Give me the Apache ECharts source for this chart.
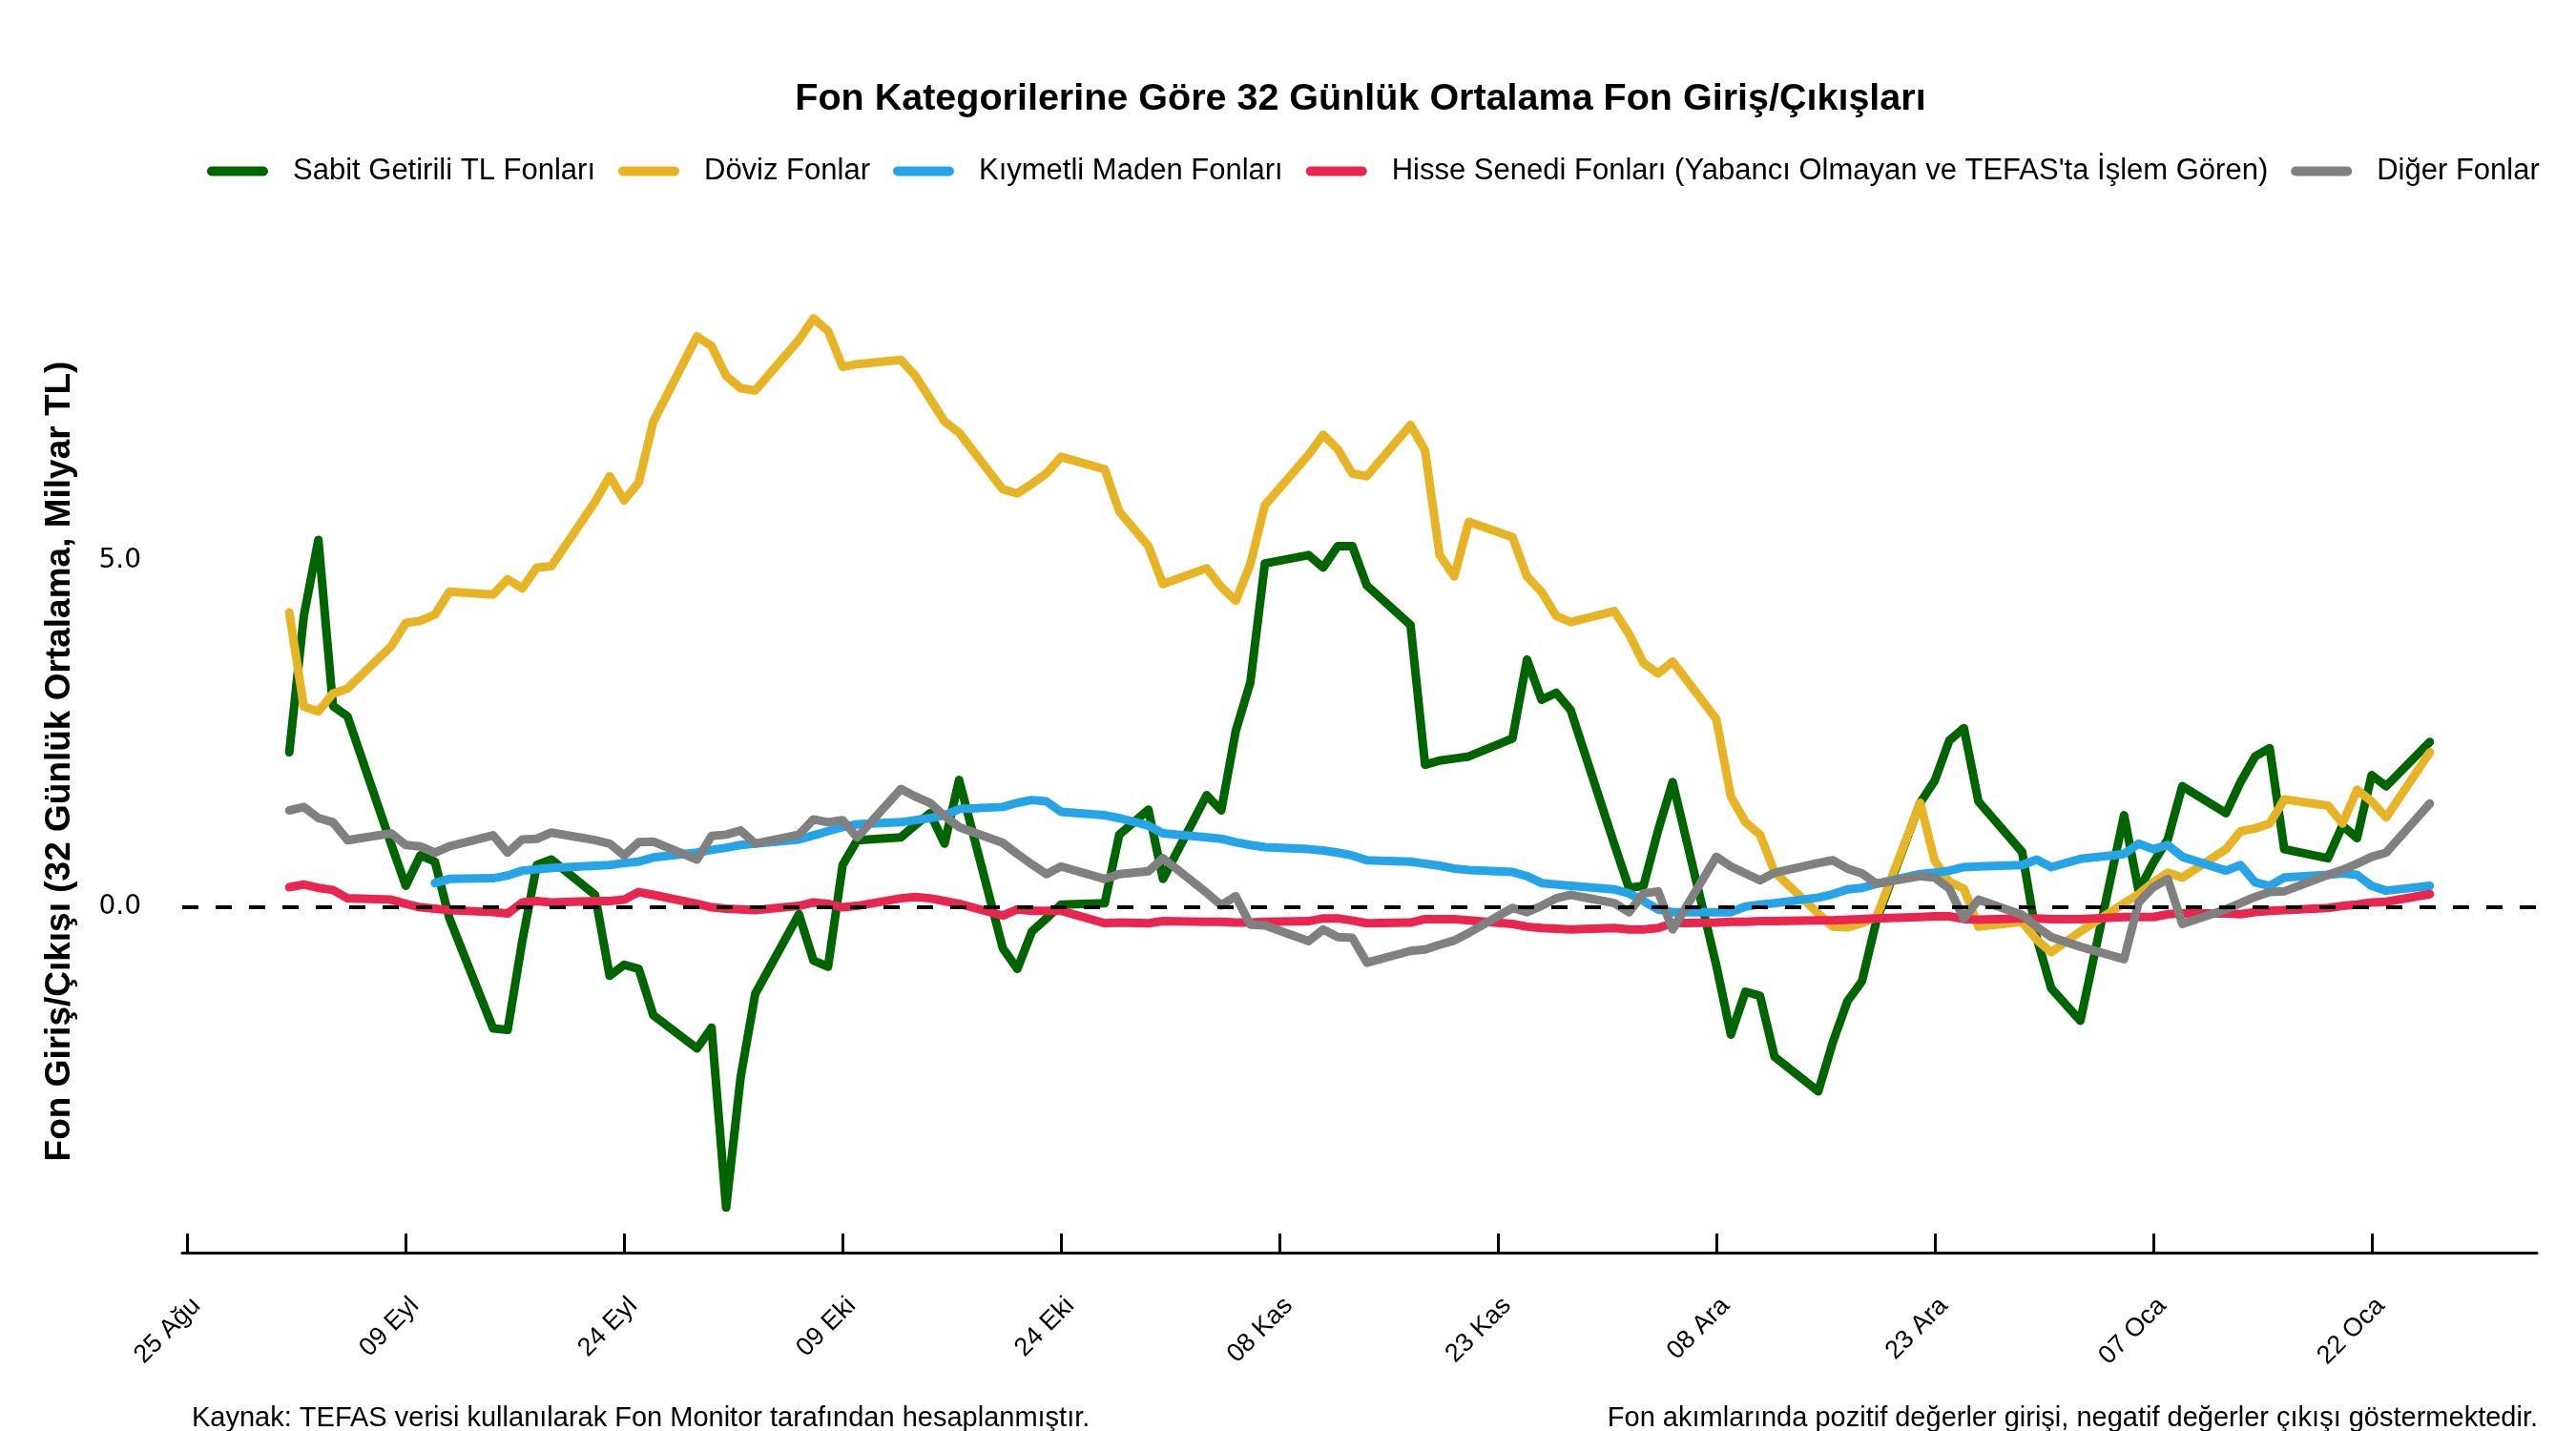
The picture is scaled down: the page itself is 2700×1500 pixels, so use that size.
<!DOCTYPE html>
<html>
<head>
<meta charset="utf-8">
<title>Fon Kategorilerine Göre 32 Günlük Ortalama Fon Giriş/Çıkışları</title>
<script src="https://cdn.jsdelivr.net/npm/echarts@6/dist/echarts.min.js"></script>
<style>
    html, body { margin: 0; padding: 0; background: #fff; }
    #main { width: 2700px; height: 1500px; }
</style>
</head>
<body>
<div id="main"></div>
<script>
// işlem günleri (hafta içi)
var dates = [
    '2025-09-01', '2025-09-02', '2025-09-03', '2025-09-04', '2025-09-05',
    '2025-09-08', '2025-09-09', '2025-09-10', '2025-09-11', '2025-09-12',
    '2025-09-15', '2025-09-16', '2025-09-17', '2025-09-18', '2025-09-19',
    '2025-09-22', '2025-09-23', '2025-09-24', '2025-09-25', '2025-09-26',
    '2025-09-29', '2025-09-30', '2025-10-01', '2025-10-02', '2025-10-03',
    '2025-10-06', '2025-10-07', '2025-10-08', '2025-10-09', '2025-10-10',
    '2025-10-13', '2025-10-14', '2025-10-15', '2025-10-16', '2025-10-17',
    '2025-10-20', '2025-10-21', '2025-10-22', '2025-10-23', '2025-10-24',
    '2025-10-27', '2025-10-28', '2025-10-30', '2025-10-31',
    '2025-11-03', '2025-11-04', '2025-11-05', '2025-11-06', '2025-11-07',
    '2025-11-10', '2025-11-11', '2025-11-12', '2025-11-13', '2025-11-14',
    '2025-11-17', '2025-11-18', '2025-11-19', '2025-11-20', '2025-11-21',
    '2025-11-24', '2025-11-25', '2025-11-26', '2025-11-27', '2025-11-28',
    '2025-12-01', '2025-12-02', '2025-12-03', '2025-12-04', '2025-12-05',
    '2025-12-08', '2025-12-09', '2025-12-10', '2025-12-11', '2025-12-12',
    '2025-12-15', '2025-12-16', '2025-12-17', '2025-12-18', '2025-12-19',
    '2025-12-22', '2025-12-23', '2025-12-24', '2025-12-25', '2025-12-26',
    '2025-12-29', '2025-12-30', '2025-12-31', '2026-01-02',
    '2026-01-05', '2026-01-06', '2026-01-07', '2026-01-08', '2026-01-09',
    '2026-01-12', '2026-01-13', '2026-01-14', '2026-01-15', '2026-01-16',
    '2026-01-19', '2026-01-20', '2026-01-21', '2026-01-22', '2026-01-23',
    '2026-01-26'
];

// milyar TL, 32 günlük ortalama
var sabitGetirili = [
    2.23, 4.2, 5.3, 2.9, 2.75,
    0.9, 0.3, 0.74, 0.65, -0.17,
    -1.76, -1.78, -0.5, 0.6, 0.68,
    0.17, -1.0, -0.84, -0.9, -1.57,
    -2.05, -1.75, -4.35, -2.46, -1.26,
    -0.11, -0.78, -0.87, 0.6, 0.96,
    1.0, 1.18, 1.35, 0.91, 1.83,
    -0.6, -0.9, -0.36, -0.17, 0.03,
    0.05, 1.04, 1.4, 0.4,
    1.61, 1.39, 2.54, 3.24, 4.96,
    5.08, 4.9, 5.21, 5.21, 4.64,
    4.07, 2.05, 2.11, 2.14, 2.17,
    2.43, 3.57, 2.99, 3.09, 2.84,
    0.9, 0.27, 0.3, 1.1, 1.8,
    -0.85, -1.85, -1.23, -1.29, -2.17,
    -2.67, -1.96, -1.37, -1.08, -0.2,
    1.5, 1.82, 2.4, 2.58, 1.52,
    0.79, -0.45, -1.18, -1.65,
    1.32, 0.23, 0.63, 0.97, 1.74,
    1.35, 1.8, 2.17, 2.29, 0.83,
    0.7, 1.17, 0.99, 1.9, 1.74,
    2.38
];
var doviz = [
    4.25, 2.89, 2.82, 3.08, 3.15,
    3.76, 4.1, 4.13, 4.22, 4.55,
    4.51, 4.73, 4.6, 4.9, 4.92,
    5.85, 6.22, 5.87, 6.13, 7.01,
    8.24, 8.1, 7.67, 7.49, 7.46,
    8.19, 8.5, 8.32, 7.8, 7.84,
    7.9, 7.67, 7.34, 7.01, 6.85,
    6.03, 5.97, 6.11, 6.26, 6.5,
    6.32, 5.71, 5.21, 4.66,
    4.89, 4.62, 4.42, 4.95, 5.8,
    6.53, 6.82, 6.61, 6.26, 6.22,
    6.96, 6.59, 5.08, 4.77, 5.56,
    5.34, 4.77, 4.55, 4.2, 4.11,
    4.27, 3.94, 3.52, 3.37, 3.54,
    2.71, 1.59, 1.22, 1.04, 0.5,
    -0.1, -0.29, -0.3, -0.24, -0.15,
    1.5, 0.66, 0.36, 0.26, -0.29,
    -0.22, -0.48, -0.66, -0.36,
    0.05, 0.18, 0.35, 0.49, 0.42,
    0.83, 1.09, 1.13, 1.2, 1.55,
    1.46, 1.2, 1.69, 1.52, 1.29,
    2.23
];
var kiymetliMaden = [
    null, null, null, null, null,
    null, null, null, 0.34, 0.4,
    0.41, 0.45, 0.52, 0.54, 0.56,
    0.59, 0.6, 0.63, 0.65, 0.71,
    0.78, 0.82, 0.85, 0.89, 0.91,
    0.97, 1.03, 1.09, 1.15, 1.19,
    1.22, 1.25, 1.28, 1.32, 1.41,
    1.44, 1.5, 1.54, 1.52, 1.37,
    1.32, 1.28, 1.17, 1.06,
    1.0, 0.98, 0.93, 0.89, 0.86,
    0.83, 0.81, 0.78, 0.74, 0.67,
    0.65, 0.62, 0.59, 0.55, 0.53,
    0.5, 0.44, 0.34, 0.32, 0.3,
    0.25, 0.19, 0.08, -0.04, -0.08,
    -0.08, -0.08, 0.0, 0.03, 0.05,
    0.13, 0.18, 0.25, 0.27, 0.33,
    0.47, 0.49, 0.52, 0.57, 0.58,
    0.6, 0.68, 0.57, 0.69,
    0.76, 0.91, 0.83, 0.89, 0.72,
    0.52, 0.6, 0.35, 0.3, 0.42,
    0.46, 0.48, 0.46, 0.3, 0.23,
    0.3
];
var hisseSenedi = [
    0.28, 0.32, 0.27, 0.24, 0.12,
    0.1, 0.04, -0.01, -0.03, -0.05,
    -0.08, -0.1, 0.06, 0.08, 0.06,
    0.08, 0.08, 0.1, 0.21, 0.17,
    0.04, -0.01, -0.03, -0.04, -0.05,
    0.01, 0.06, 0.04, -0.01, 0.01,
    0.12, 0.14, 0.12, 0.08, 0.04,
    -0.13, -0.04, -0.06, -0.06, -0.06,
    -0.24, -0.23, -0.24, -0.21,
    -0.22, -0.22, -0.23, -0.23, -0.22,
    -0.21, -0.17, -0.17, -0.2, -0.24,
    -0.23, -0.18, -0.18, -0.18, -0.2,
    -0.25, -0.29, -0.31, -0.32, -0.33,
    -0.31, -0.33, -0.33, -0.31, -0.24,
    -0.23, -0.22, -0.22, -0.21, -0.21,
    -0.2, -0.2, -0.19, -0.18, -0.17,
    -0.15, -0.14, -0.14, -0.18, -0.19,
    -0.17, -0.17, -0.18, -0.18,
    -0.15, -0.15, -0.15, -0.11, -0.1,
    -0.1, -0.11, -0.08, -0.06, -0.05,
    -0.02, 0.01, 0.03, 0.06, 0.07,
    0.18
];
var diger = [
    1.39, 1.44, 1.28, 1.22, 0.96,
    1.06, 0.89, 0.87, 0.78, 0.87,
    1.03, 0.78, 0.97, 0.98, 1.07,
    0.96, 0.91, 0.74, 0.93, 0.94,
    0.68, 1.02, 1.04, 1.1, 0.91,
    1.04, 1.26, 1.22, 1.25, 1.0,
    1.7, 1.59, 1.5, 1.31, 1.15,
    0.92, 0.76, 0.61, 0.47, 0.58,
    0.4, 0.47, 0.51, 0.7,
    0.2, 0.02, 0.15, -0.26, -0.27,
    -0.5, -0.33, -0.44, -0.45, -0.81,
    -0.64, -0.62, -0.55, -0.49, -0.38,
    -0.02, -0.08, 0.01, 0.12, 0.17,
    0.05, -0.08, 0.19, 0.22, -0.33,
    0.72, 0.58, 0.48, 0.38, 0.49,
    0.63, 0.67, 0.55, 0.48, 0.33,
    0.44, 0.42, 0.26, -0.17, 0.1,
    -0.12, -0.29, -0.44, -0.58,
    -0.76, 0.06, 0.28, 0.4, -0.25,
    -0.04, 0.05, 0.14, 0.21, 0.22,
    0.46, 0.53, 0.62, 0.72, 0.78,
    1.49
];

var tickDates = ['2025-08-25', '2025-09-09', '2025-09-24', '2025-10-09', '2025-10-24', '2025-11-08',
    '2025-11-23', '2025-12-08', '2025-12-23', '2026-01-07', '2026-01-22'];
var tickLabels = ['25 Ağu', '09 Eyl', '24 Eyl', '09 Eki', '24 Eki', '08 Kas',
    '23 Kas', '08 Ara', '23 Ara', '07 Oca', '22 Oca'];

var seriesNames = ['Sabit Getirili TL Fonları', 'Döviz Fonlar', 'Kıymetli Maden Fonları',
    "Hisse Senedi Fonları (Yabancı Olmayan ve TEFAS'ta İşlem Gören)", 'Diğer Fonlar'];
var seriesColors = ['#006400', '#E7B426', '#25A4E8', '#E9264F', '#808080'];
var seriesValues = [sabitGetirili, doviz, kiymetliMaden, hisseSenedi, diger];

var FONT = 'Liberation Sans, Arial, sans-serif';
var BASE = Date.UTC(2025, 7, 25);

// tarih -> 25 Ağu'dan itibaren gün
function dayOf(s) {
    var p = s.split('-');
    return (Date.UTC(+p[0], +p[1] - 1, +p[2]) - BASE) / 86400000;
}

var xDays = dates.map(dayOf);
var tickDays = tickDates.map(dayOf);
var first = xDays[0], last = xDays[xDays.length - 1];
var pad = (last - first) * 0.05;

var series = seriesValues.map(function (vals, i) {
    var s = {
        name: seriesNames[i],
        type: 'line',
        showSymbol: false,
        symbol: 'none',
        color: seriesColors[i],
        lineStyle: {width: 9, color: seriesColors[i], cap: 'round', join: 'round'},
        emphasis: {disabled: true},
        data: xDays.map(function (d, j) {
            return [d, vals[j]];
        })
    };
    if (i === 0) {
        s.markLine = {
            silent: true,
            symbol: ['none', 'none'],
            label: {show: false},
            lineStyle: {color: '#000', type: [17, 18], width: 4},
            data: [{yAxis: 0}]
        };
    }
    return s;
});

var myChart = echarts.init(document.getElementById('main'), null, {renderer: 'canvas'});
var option = {
    animation: false,
    backgroundColor: '#fff',
    title: [{
        text: 'Fon Kategorilerine Göre 32 Günlük Ortalama Fon Giriş/Çıkışları',
        left: 1426,
        top: 84,
        textAlign: 'center',
        padding: 0,
        textStyle: {fontFamily: FONT, fontSize: 39.5, fontWeight: 'bold', color: '#000'}
    }, {
        text: 'Kaynak: TEFAS verisi kullanılarak Fon Monitor tarafından hesaplanmıştır.',
        left: 201,
        top: 1472,
        padding: 0,
        textStyle: {fontFamily: FONT, fontSize: 29, fontWeight: 'normal', color: '#000'}
    }, {
        text: 'Fon akımlarında pozitif değerler girişi, negatif değerler çıkışı göstermektedir.',
        right: 40,
        top: 1472,
        padding: 0,
        textStyle: {fontFamily: FONT, fontSize: 29, fontWeight: 'normal', color: '#000'}
    }],
    legend: {
        data: seriesNames,
        left: 217,
        top: 164,
        padding: 0,
        itemGap: 24,
        itemWidth: 64,
        itemHeight: 10,
        icon: 'path://M5 0H59A5 5 0 0 1 59 10H5A5 5 0 0 1 5 0Z',
        textStyle: {fontFamily: FONT, fontSize: 31, color: '#000', padding: [0, 0, 0, 21]}
    },
    grid: {left: 191, right: 41, top: 283, bottom: 187, containLabel: false},
    xAxis: {
        type: 'value',
        min: first - pad,
        max: last + pad,
        splitLine: {show: false},
        axisLine: {show: true, onZero: false, lineStyle: {color: '#000', width: 3}},
        axisTick: {show: true, inside: true, length: 20, customValues: tickDays,
            lineStyle: {color: '#000', width: 3}},
        axisLabel: {
            customValues: tickDays,
            rotate: 45,
            margin: 42,
            verticalAlign: 'top',
            fontFamily: FONT,
            fontSize: 27,
            color: '#000',
            formatter: function (v) {
                var k = tickDays.indexOf(v);
                return k >= 0 ? tickLabels[k] : '';
            }
        }
    },
    yAxis: {
        type: 'value',
        min: -5,
        max: 9.2,
        name: 'Fon Giriş/Çıkışı (32 Günlük Ortalama, Milyar TL)',
        nameLocation: 'middle',
        nameRotate: 90,
        nameGap: 110,
        nameTextStyle: {fontFamily: FONT, fontSize: 37, fontWeight: 'bold', color: '#000'},
        splitLine: {show: false},
        axisLine: {show: false},
        axisTick: {show: false},
        axisLabel: {
            customValues: [0, 5],
            margin: 43,
            fontFamily: 'DejaVu Sans',
            fontSize: 28,
            color: '#000',
            formatter: function (v) {
                return v.toFixed(1);
            }
        }
    },
    series: series
};
myChart.setOption(option);
</script>
</body>
</html>
